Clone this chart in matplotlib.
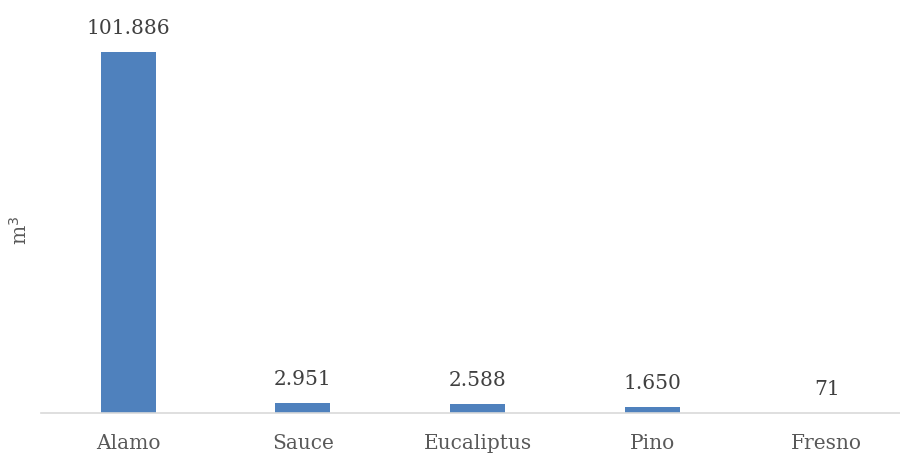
import matplotlib

matplotlib.use("Agg")
import matplotlib.pyplot as plt

categories = ["Alamo", "Sauce", "Eucaliptus", "Pino", "Fresno"]
volumes = [101886, 2951, 2588, 1650, 71]
value_labels = ["101.886", "2.951", "2.588", "1.650", "71"]

plt.rcParams["font.family"] = ["DejaVu Serif"]

fig = plt.figure(figsize=(9, 4.55), dpi=100)
ax = fig.add_axes([41 / 900, 42 / 455, 873 / 900, 413 / 455])

x = range(len(categories))
ax.bar(x, volumes, width=0.315, color="#4F81BD")
for xi, v, lab in zip(x, volumes, value_labels):
    ax.annotate(lab, (xi, v), xytext=(0, 10), textcoords="offset points",
                ha="center", va="bottom", fontsize=14.5, color="#404040")

ax.set_xlim(-0.5, 4.5)
ax.set_ylim(0, 101886 * 413 / 361)
ax.set_xticks(list(x))
ax.set_xticklabels(categories, fontsize=14.5, color="#595959")
ax.tick_params(axis="x", length=0, pad=15)
ax.set_yticks([])
for side in ["top", "right", "left"]:
    ax.spines[side].set_visible(False)
ax.spines["bottom"].set_color("#D9D9D9")
ax.spines["bottom"].set_linewidth(1.2)

fig.text(20 / 900, 1 - 230 / 455, "m$^3$", rotation=90, ha="center", va="center",
         fontsize=14.5, color="#595959")

fig.savefig("out.png", dpi=100)
